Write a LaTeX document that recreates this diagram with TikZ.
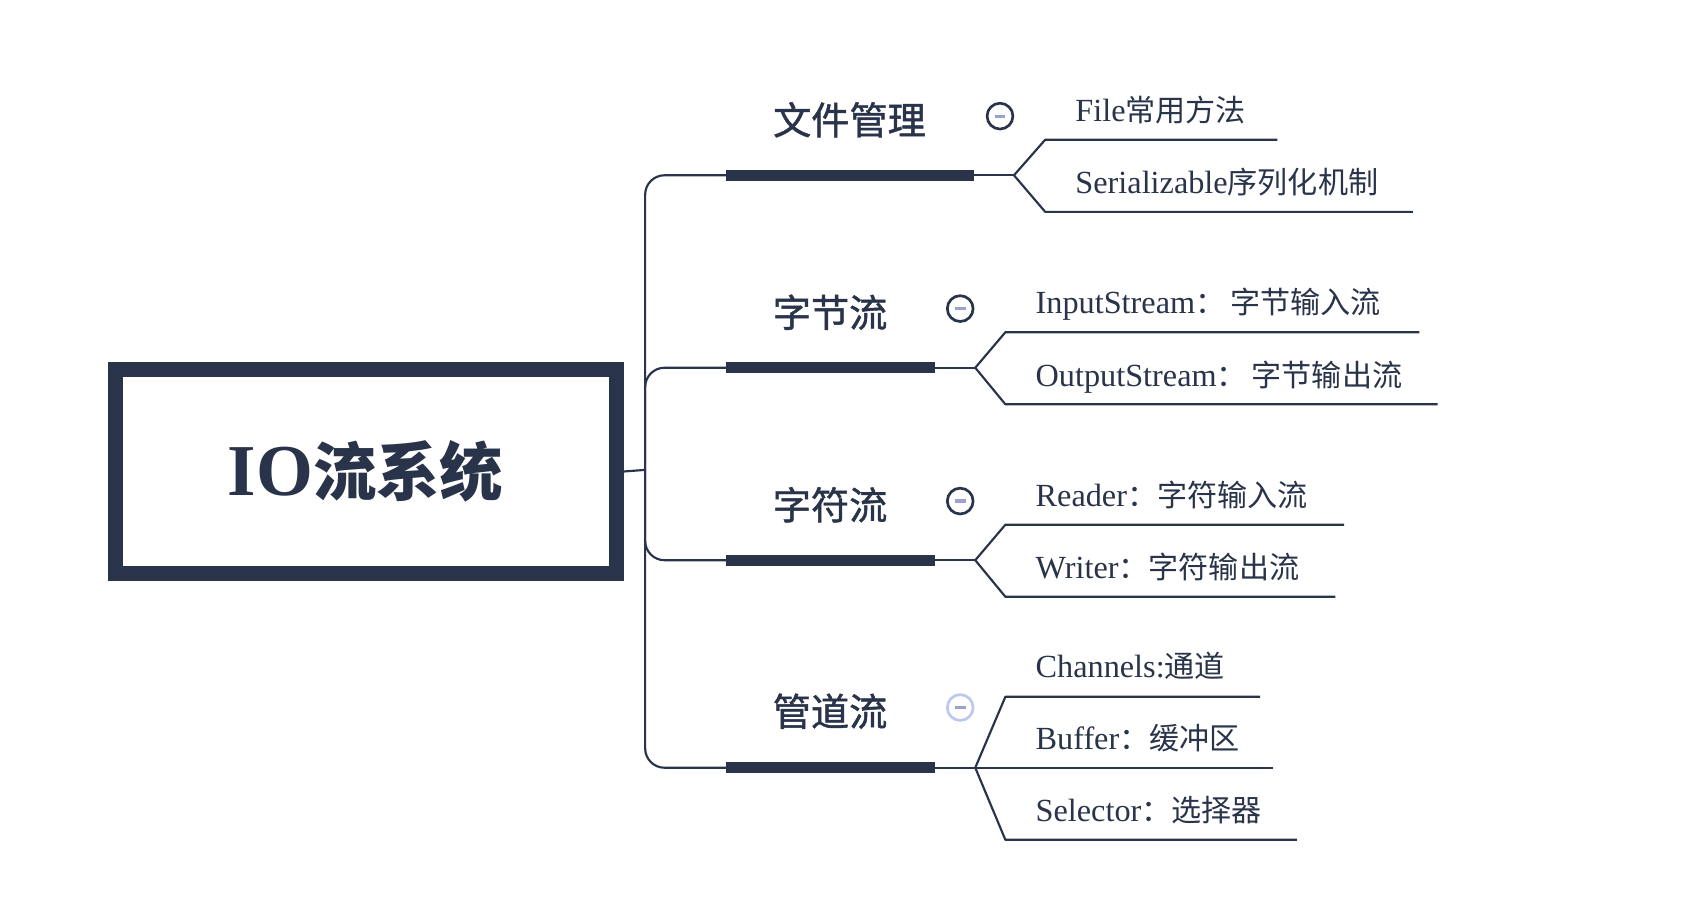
\documentclass[tikz,border=0pt]{standalone}
\usepackage{fontspec}
\setmainfont{Liberation Serif}
\newfontfamily\cjk{Noto Sans CJK SC}
\newfontfamily\cjkhead{Noto Sans CJK SC}[FakeBold=1.2]
\definecolor{ink}{HTML}{29344A}
\definecolor{lav}{HTML}{9AA3CE}
\definecolor{pale}{HTML}{BCC8EE}
\newcommand\cjktxt[1]{{\cjk\fontsize{28}{30}\selectfont #1}}
\begin{document}
\begin{tikzpicture}[x=1pt,y=-1pt,
  thinln/.style={draw=ink,line width=2pt,line join=round},
  barln/.style={draw=ink,line width=10pt},
  kid/.style={anchor=base west,inner sep=0pt,text=ink,font=\fontsize{30}{32}\selectfont},
  head/.style={anchor=base,inner sep=0pt,text=ink,font=\cjkhead\fontsize{35.5}{40}\selectfont},
  tog/.style={circle,draw=ink,line width=2.5pt,fill=white,minimum size=24pt,inner sep=0pt},
  minus/.style={draw=lav,line width=3pt}]
\useasboundingbox (0,0) rectangle (1568,856);
\fill[white] (0,0) rectangle (1568,856);

% root
\node[draw=ink,line width=14pt,minimum width=466pt,minimum height=189pt,inner sep=0pt,text=ink]
  (root) at (340,438.5) {\fontsize{68}{70}\selectfont\bfseries IO{\cjk\fontsize{59}{62}\selectfont\bfseries 流系统}};
\coordinate (J) at (600,437);
\draw[thinln] (root.east) -- (J);

% branch coordinates
\coordinate (bL1) at (675,163); \coordinate (bR1) at (906,163); \coordinate (F1) at (943,163);
\coordinate (bL2) at (675,342); \coordinate (bR2) at (870,342); \coordinate (F2) at (907,342);
\coordinate (bL3) at (675,521); \coordinate (bR3) at (870,521); \coordinate (F3) at (907,521);
\coordinate (bL4) at (675,714); \coordinate (bR4) at (870,714); \coordinate (F4) at (907,714);

\foreach \i in {1,2,3,4}{
  \draw[thinln,rounded corners=18pt] (J) |- (bL\i);
  \draw[thinln] (bR\i) -- (F\i);
  \draw[barln] (bL\i) -- (bR\i);
}

% fork lines
\coordinate (u1) at (972,130); \coordinate (ue1) at (1188,130);
\coordinate (d1) at (972,197); \coordinate (de1) at (1314,197);
\coordinate (u2) at (935,309); \coordinate (ue2) at (1320,309);
\coordinate (d2) at (935,376); \coordinate (de2) at (1337,376);
\coordinate (u3) at (935,488); \coordinate (ue3) at (1250,488);
\coordinate (d3) at (935,555); \coordinate (de3) at (1242,555);
\coordinate (u4) at (935,648); \coordinate (ue4) at (1172,648);
\coordinate (me4) at (1184,714);
\coordinate (d4) at (935,781); \coordinate (de4) at (1206,781);

\foreach \i in {1,2,3,4}{
  \draw[thinln] (F\i) -- (u\i) -- (ue\i);
  \draw[thinln] (F\i) -- (d\i) -- (de\i);
}
\draw[thinln] (F4) -- (me4);

% headings
\node[head] (h1) at (790,125) {文件管理};
\node[head] (h2) at (772,304) {字节流};
\node[head] (h3) at (772,483) {字符流};
\node[head] (h4) at (772,675) {管道流};

% toggles
\node[tog] (t1) at (930,108) {};
\node[tog] (t2) at (893,287) {};
\node[tog] (t3) at (893,466) {};
\node[tog,draw=pale] (t4) at (893,658) {};
\foreach \i in {1,2,3,4}{
  \draw[minus] ([xshift=-5pt]t\i.center) -- ([xshift=5pt]t\i.center);
}

% children
\node[kid] (k11) at (1000,113) {File\cjktxt{常用方法}};
\node[kid] (k12) at (1000,180) {Serializable\cjktxt{序列化机制}};
\node[kid] (k21) at (963,292) {InputStream\cjktxt{：\,字节输入流}};
\node[kid] (k22) at (963,359) {OutputStream\cjktxt{：\,字节输出流}};
\node[kid] (k31) at (963,471) {Reader\cjktxt{：字符输入流}};
\node[kid] (k32) at (963,538) {Writer\cjktxt{：字符输出流}};
\node[kid] (k41) at (963,630) {Channels:\cjktxt{通道}};
\node[kid] (k42) at (963,697) {Buffer\cjktxt{：缓冲区}};
\node[kid] (k43) at (963,764) {Selector\cjktxt{：选择器}};
\end{tikzpicture}
\end{document}
